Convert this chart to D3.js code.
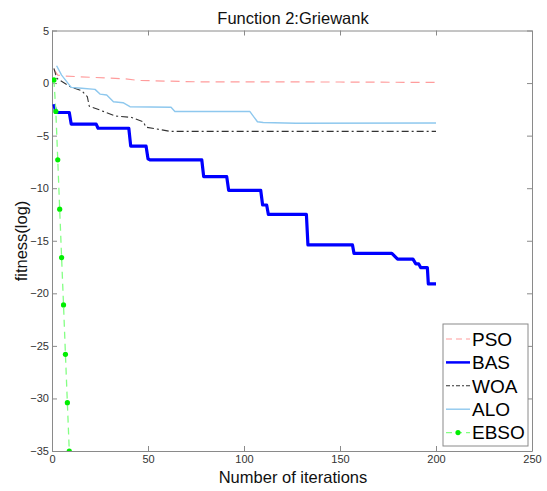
<!DOCTYPE html>
<html>
<head>
<meta charset="utf-8">
<script src="https://cdn.jsdelivr.net/npm/d3@7"></script>
<style>
  body{ margin: 0; background: #fff; }
  text{ font-family: "Liberation Sans", Arial, Helvetica, sans-serif; }
</style>
</head>
<body>
<div id="chart"></div>
<script>

// Tick values for both axes.
const x_ticks = [ 0, 50, 100, 150, 200, 250 ];
const y_ticks = [ 5, 0, -5, -10, -15, -20, -25, -30, -35 ];

// Series, as [ iteration, log fitness ].
const pso_values = [ [1, 1.3], [3, 0.75], [6, 0.68], [20, 0.55], [38, 0.4], [45, 0.25], [75, 0.12], [150, 0.1], [200, 0.06] ];
const bas_values = [ [1, -2.0], [2, -2.8], [9, -2.8], [10, -3.9], [23, -3.9], [24, -4.3], [40, -4.3], [41, -6.0], [49, -6.0],
  [50, -7.2], [51, -7.3], [78, -7.3], [79, -8.9], [91, -8.9], [92, -10.2], [108.7, -10.2], [109.7, -11.6], [111.8, -11.6],
  [112.7, -12.5], [132.5, -12.5], [133.3, -15.4], [156.5, -15.4], [157.3, -16.2], [177, -16.2], [180, -16.75], [188, -16.75],
  [189.5, -17.2], [191, -17.2], [192, -17.55], [195.5, -17.55], [196, -19.1], [200, -19.1] ];
const woa_values = [ [1, 1.4], [2.5, 0.45], [10, -0.4], [15.5, -0.73], [18.4, -1.3], [19.4, -2.2], [25, -2.57], [33, -3.14],
  [41.5, -3.27], [47.5, -3.68], [49, -4.2], [58, -4.48], [61.5, -4.6], [200, -4.6] ];
const alo_values = [ [2.4, 1.65], [5, 0.76], [10, -0.41], [15.5, -0.5], [22.4, -0.6], [25, -1.05], [28.5, -1.14], [32, -1.78],
  [37, -1.87], [40.6, -2.25], [62, -2.3], [64, -2.7], [103, -2.7], [107, -3.68], [110, -3.75], [127, -3.82], [200, -3.8] ];
const ebso_values = [ [1, 0.3], [2, -2.7], [3, -7.3], [4, -12.0], [5, -16.6], [6, -21.1], [7, -25.8], [8, -30.4], [9, -35.0] ];

const series_names = [ 'PSO', 'BAS', 'WOA', 'ALO', 'EBSO' ];

// Look of each series, same order as the names.
const series_styles = [
  { data: pso_values, stroke: '#ff9c9c', width: 1.2, dash: '9,6' },
  { data: bas_values, stroke: '#0000ff', width: 3.2, dash: null },
  { data: woa_values, stroke: '#333333', width: 1.1, dash: '7,3,2,3' },
  { data: alo_values, stroke: '#8ec8ee', width: 1.4, dash: null },
  { data: ebso_values, stroke: '#84ff84', width: 1.3, dash: '7,5', marker: '#00ee00' }
];

const settings = {
  figure_width: 547,
  figure_height: 491,
  margin: { left: 52, right: 15, top: 30.5, bottom: 40 },
  axis_color: '#8a8a8a',
  tick_color: '#333333'
};
settings.plot_width = settings.figure_width - settings.margin.left - settings.margin.right;
settings.plot_height = settings.figure_height - settings.margin.top - settings.margin.bottom;

const svg_root = d3.select( '#chart' )
  .append( 'svg' )
    .attr( 'width', settings.figure_width )
    .attr( 'height', settings.figure_height );

const svg = svg_root.append( 'g' )
  .attr( 'transform', 'translate(' + settings.margin.left + ',' + settings.margin.top + ')' );

// Scales.
const x_scale = d3.scaleLinear().domain( [ 0, 250 ] ).range( [ 0, settings.plot_width ] );
const y_scale = d3.scaleLinear().domain( [ -35, 5 ] ).range( [ settings.plot_height, 0 ] );

// Clip so lines stay within the box.
svg.append( 'clipPath' ).attr( 'id', 'plotclip' )
  .append( 'rect' )
    .attr( 'width', settings.plot_width )
    .attr( 'height', settings.plot_height );

// Axes, MATLAB style: ticks pointing inward, box around the plot.
function style_axis( g ){
  g.select( '.domain' ).attr( 'stroke', settings.axis_color );
  g.selectAll( '.tick line' ).attr( 'stroke', settings.axis_color );
  g.selectAll( '.tick text' )
    .attr( 'fill', settings.tick_color )
    .style( 'font-size', '11px' );
}

svg.append( 'g' )
  .attr( 'transform', 'translate(0,' + settings.plot_height + ')' )
  .call( d3.axisBottom( x_scale ).tickValues( x_ticks ).tickSizeInner( -5 ).tickSizeOuter( 0 ).tickPadding( 4 ) )
  .call( style_axis );

svg.append( 'g' )
  .call( d3.axisLeft( y_scale ).tickValues( y_ticks ).tickSizeInner( -5 ).tickSizeOuter( 0 ).tickPadding( 3 ) )
  .call( style_axis );

svg.append( 'g' )
  .call( d3.axisTop( x_scale ).tickValues( x_ticks ).tickSizeInner( -5 ).tickSizeOuter( 0 ).tickFormat( '' ) )
  .call( style_axis );

svg.append( 'g' )
  .attr( 'transform', 'translate(' + settings.plot_width + ',0)' )
  .call( d3.axisRight( y_scale ).tickValues( y_ticks ).tickSizeInner( -5 ).tickSizeOuter( 0 ).tickFormat( '' ) )
  .call( style_axis );

// Draw the lines.
const line = d3.line()
  .x( d => x_scale( d[0] ) )
  .y( d => y_scale( d[1] ) );

const lines_g = svg.append( 'g' ).attr( 'clip-path', 'url(#plotclip)' );

series_styles.forEach( function( s ){
  lines_g.append( 'path' )
    .datum( s.data )
    .attr( 'd', line )
    .attr( 'fill', 'none' )
    .attr( 'stroke', s.stroke )
    .attr( 'stroke-width', s.width )
    .attr( 'stroke-dasharray', s.dash )
    .attr( 'stroke-linejoin', 'round' );
  if( s.marker ){
    lines_g.selectAll( null )
      .data( s.data )
      .enter()
      .append( 'circle' )
        .attr( 'cx', d => x_scale( d[0] ) )
        .attr( 'cy', d => y_scale( d[1] ) )
        .attr( 'r', 2.6 )
        .attr( 'fill', s.marker );
  }
});

// Title and axis labels.
svg_root.append( 'text' )
  .attr( 'x', 293 )
  .attr( 'y', 24 )
  .attr( 'text-anchor', 'middle' )
  .style( 'font-size', '16.5px' )
  .attr( 'fill', '#111' )
  .text( 'Function 2:Griewank' );

svg_root.append( 'text' )
  .attr( 'x', 293 )
  .attr( 'y', 483 )
  .attr( 'text-anchor', 'middle' )
  .style( 'font-size', '16.5px' )
  .attr( 'fill', '#111' )
  .text( 'Number of iterations' );

svg_root.append( 'text' )
  .attr( 'transform', 'translate(27,241) rotate(-90)' )
  .attr( 'text-anchor', 'middle' )
  .style( 'font-size', '16.5px' )
  .attr( 'fill', '#111' )
  .text( 'fitness(log)' );

// Legend box, lower right.
const legend = svg_root.append( 'g' ).attr( 'transform', 'translate(443,324)' );
legend.append( 'rect' )
  .attr( 'width', 85 )
  .attr( 'height', 122 )
  .attr( 'fill', '#fff' )
  .attr( 'stroke', '#8a8a8a' );

series_styles.forEach( function( s, i ){
  const ly = 15 + i * 23.4;
  legend.append( 'line' )
    .attr( 'x1', 3 ).attr( 'x2', 27 )
    .attr( 'y1', ly ).attr( 'y2', ly )
    .attr( 'stroke', s.stroke )
    .attr( 'stroke-width', Math.min( s.width, 2.5 ) )
    .attr( 'stroke-dasharray', s.dash ? ( i == 2 ? '4,2,2,2' : '6,4' ) : null );
  if( s.marker ){
    legend.append( 'circle' )
      .attr( 'cx', 15 ).attr( 'cy', ly ).attr( 'r', 2.6 )
      .attr( 'fill', s.marker );
  }
  legend.append( 'text' )
    .attr( 'x', 29 )
    .attr( 'y', ly )
    .attr( 'dy', '0.36em' )
    .style( 'font-size', '19px' )
    .attr( 'fill', '#000' )
    .text( series_names[i] );
});

</script>
</body>
</html>
